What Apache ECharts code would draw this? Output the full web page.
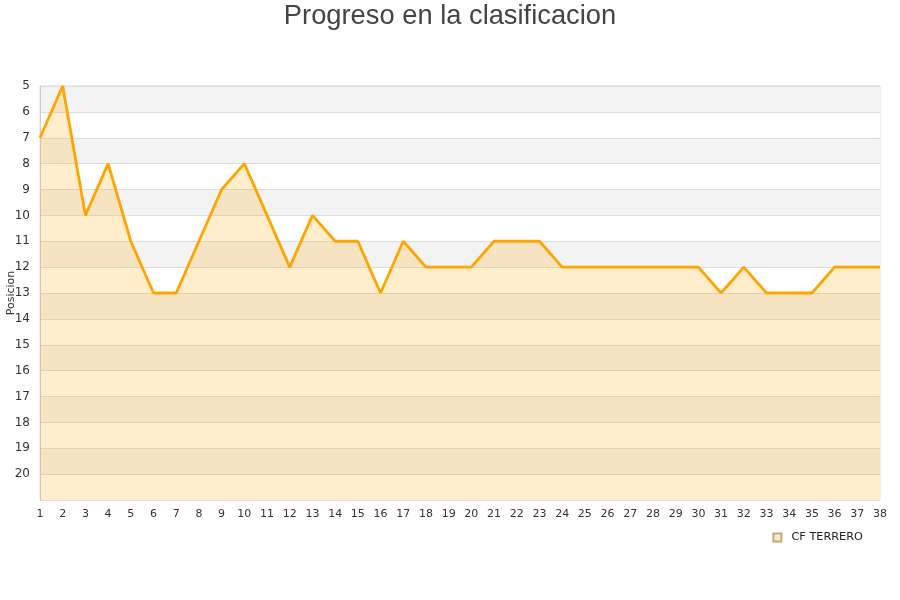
<!DOCTYPE html>
<html><head><meta charset="utf-8">
<script src="https://cdn.jsdelivr.net/npm/echarts@6/dist/echarts.min.js"></script>
<style>html,body{margin:0;padding:0;background:#fff}#c{width:900px;height:600px}</style>
</head><body><div id="c"></div>
<script>
const jornadas = ['1','2','3','4','5','6','7','8','9','10','11','12','13','14','15','16','17','18','19','20','21','22','23','24','25','26','27','28','29','30','31','32','33','34','35','36','37','38'];
const posiciones = [7,5,10,8,11,13,13,11,9,8,10,12,10,11,11,13,11,12,12,12,11,11,11,12,12,12,12,12,12,12,13,12,13,13,13,12,12,12];
const serieNombre = 'CF TERRERO';
const titulo = 'Progreso en la clasificacion';

const chart = echarts.init(document.getElementById('c'), null, {renderer:'canvas'});
chart.setOption({
  animation:false,
  title:{text:titulo,left:'center',top:-2,textStyle:{fontFamily:'Liberation Sans, Arial, sans-serif',fontSize:27.3,fontWeight:'normal',color:'#444'}},
  grid:{left:40,right:20,top:86,bottom:100,containLabel:false,outerBoundsMode:'none',show:true,borderColor:'#ddd',borderWidth:1,backgroundColor:'transparent'},
  legend:{data:[{name:serieNombre,icon:'rect'}],right:32,top:527,itemWidth:8,itemHeight:8,itemGap:6,
    textStyle:{fontFamily:'DejaVu Sans, sans-serif',fontSize:11.3,color:'#222',padding:[0,0,0,5]}},
  xAxis:{type:'category',data:jornadas,boundaryGap:false,
    axisLine:{show:false},axisTick:{show:false},splitLine:{show:false},
    axisLabel:{interval:0,fontFamily:'DejaVu Sans, sans-serif',fontSize:11,color:'#333',margin:9}},
  yAxis:{type:'value',inverse:true,min:5,max:21,interval:1,name:'Posicion',nameLocation:'middle',nameGap:23,nameMoveOverlap:false,
    nameTextStyle:{fontFamily:'DejaVu Sans, sans-serif',fontSize:11,color:'#333'},
    axisLine:{show:true,lineStyle:{color:'#ccc'}},axisTick:{show:false},
    axisLabel:{fontFamily:'DejaVu Sans, sans-serif',fontSize:12,color:'#333',margin:10,
      formatter:v=> v>20?'':String(v)},
    splitLine:{show:true,lineStyle:{color:'#ddd'}},
    splitArea:{show:true,areaStyle:{color:['#f3f3f3','#ffffff']}}},
  series:[{name:serieNombre,type:'line',data:posiciones,symbol:'none',
    lineStyle:{color:'#ffa500',width:2.8},itemStyle:{color:'#fbe9c6',borderColor:'#c8a878',borderWidth:1},
    areaStyle:{color:'rgba(255,165,0,0.2)',opacity:1,origin:'end'}}]
});
</script></body></html>
